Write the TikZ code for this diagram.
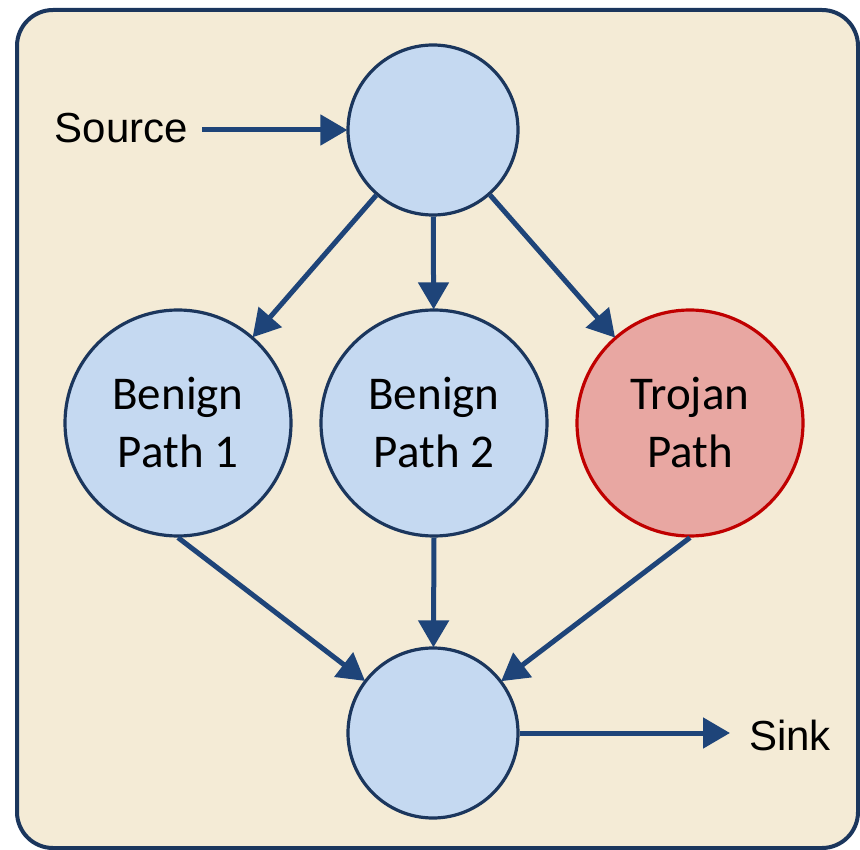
\documentclass[tikz,border=0pt]{standalone}
\usepackage{fontspec}
\setmainfont{Carlito}
\newfontfamily\arialfont{Liberation Sans}
\usetikzlibrary{arrows.meta}
\definecolor{bgcream}{HTML}{F4EBD6}
\definecolor{framenavy}{HTML}{1B365D}
\definecolor{nodefill}{HTML}{C5D9F1}
\definecolor{nodeline}{HTML}{1B365D}
\definecolor{arrowblue}{HTML}{1E4479}
\definecolor{trojfill}{HTML}{E8A7A2}
\definecolor{trojline}{HTML}{C00000}
\tikzset{
  x=1pt, y=-1pt,
  smallc/.style={circle, draw=nodeline, fill=nodefill, line width=3.2pt, minimum size=170pt, inner sep=0pt},
  bigc/.style={circle, draw=nodeline, fill=nodefill, line width=3.2pt, minimum size=226pt, inner sep=0pt,
     align=center, font=\fontsize{47}{58}\selectfont},
  trojc/.style={bigc, draw=trojline, fill=trojfill},
  conn/.style={draw=arrowblue, line width=5pt, -{Triangle[length=27pt,width=30pt]}, shorten >=-1pt},
  lbl/.style={font=\arialfont\fontsize{42}{48}\selectfont, inner sep=0pt}
}
\begin{document}
\begin{tikzpicture}
\useasboundingbox (0,0) rectangle (860,850);
\draw[fill=bgcream, draw=framenavy, line width=4pt, rounded corners=36pt] (17,10) rectangle (858,848);
\node[smallc] (top) at (433,130) {};
\node[bigc] (b1) at (178,423) {Benign\\Path 1};
\node[bigc] (b2) at (434,423) {Benign\\Path 2};
\node[trojc] (tr) at (690,423) {Trojan\\Path};
\node[smallc] (bot) at (433,733) {};
\node[lbl, anchor=east] (src) at (188,128) {Source};
\node[lbl, anchor=west] (snk) at (749,735) {Sink};
\coordinate (srcend) at (202,130);
\coordinate (snkend) at (729,733);
\draw[conn] (srcend) -- (top.west);
\draw[conn] (top) -- (b1);
\draw[conn] (top) -- (b2);
\draw[conn] (top) -- (tr);
\draw[conn] (b1.south) -- (bot);
\draw[conn] (b2.south) -- (bot);
\draw[conn] (tr.south) -- (bot);
\draw[conn] (bot.east) -- (snkend);
\end{tikzpicture}
\end{document}
